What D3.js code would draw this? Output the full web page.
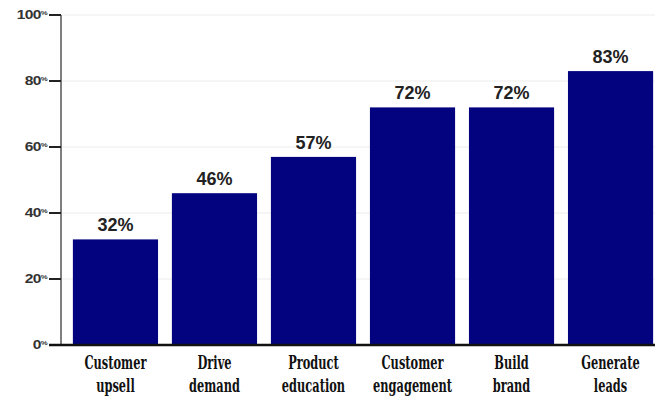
<!DOCTYPE html>
<html>
<head>
<meta charset="utf-8">
<script src="https://cdn.jsdelivr.net/npm/d3@7"></script>
<style>
  body { margin: 0; background: #fff; }
  svg { display: block; }
</style>
</head>
<body>
<svg id="chart" width="655" height="397"></svg>
<script>
// data
const categories = [
  ['Customer', 'upsell'],
  ['Drive', 'demand'],
  ['Product', 'education'],
  ['Customer', 'engagement'],
  ['Build', 'brand'],
  ['Generate', 'leads']
];
const values = [32, 46, 57, 72, 72, 83];
const yTicks = [0, 20, 40, 60, 80, 100];

const svg = d3.select('#chart');

const x = d3.scaleBand()
  .domain(d3.range(values.length))
  .range([61, 665])
  .paddingInner(0.14)
  .paddingOuter(0.12);

const y = d3.scaleLinear()
  .domain([0, 100])
  .range([345, 15]);

// light gridlines
svg.append('g')
  .selectAll('line')
  .data(yTicks.slice(1))
  .enter()
  .append('line')
  .attr('x1', 61).attr('x2', 655)
  .attr('y1', d => y(d)).attr('y2', d => y(d))
  .style('stroke', '#ececec')
  .style('stroke-width', 1);

// bars
svg.append('g')
  .selectAll('rect')
  .data(values)
  .enter()
  .append('rect')
  .attr('x', (d, i) => x(i))
  .attr('y', d => y(d))
  .attr('width', x.bandwidth())
  .attr('height', d => y(0) - y(d))
  .style('fill', '#03037f');

// value labels
svg.append('g')
  .selectAll('text')
  .data(values)
  .enter()
  .append('text')
  .attr('x', (d, i) => x(i) + x.bandwidth() / 2)
  .attr('y', d => y(d) - 8)
  .attr('text-anchor', 'middle')
  .style('font-family', '"Liberation Sans", Arial, sans-serif')
  .style('font-weight', 'bold')
  .style('font-size', '18px')
  .style('fill', '#222')
  .text(d => d + '%');

// y axis line
svg.append('line')
  .attr('x1', 61).attr('x2', 61)
  .attr('y1', y(100)).attr('y2', y(0))
  .style('stroke', '#555')
  .style('stroke-width', 1.5);

// y ticks
const ticks = svg.append('g')
  .selectAll('g')
  .data(yTicks)
  .enter()
  .append('g')
  .attr('transform', d => 'translate(0,' + y(d) + ')');

ticks.append('line')
  .attr('x1', 49).attr('x2', 61)
  .style('stroke', '#222')
  .style('stroke-width', 2);

// tick labels: wide digits with a tiny raised %
const tl = ticks.append('text')
  .attr('transform', 'translate(47,4) scale(1.3,1)')
  .attr('text-anchor', 'end')
  .style('font-family', '"Liberation Sans", Arial, sans-serif')
  .style('font-weight', 'bold')
  .style('font-size', '12px')
  .style('letter-spacing', '-0.5px')
  .style('fill', '#333');
tl.append('tspan').text(d => d);
tl.append('tspan')
  .attr('dy', -4)
  .style('font-size', '6px')
  .text('%');

// baseline
svg.append('line')
  .attr('x1', 49).attr('x2', 655)
  .attr('y1', y(0)).attr('y2', y(0))
  .style('stroke', '#111')
  .style('stroke-width', 2.5);

// category labels (condensed bold serif)
const sx = 0.6;
const cat = svg.append('g')
  .selectAll('g')
  .data(categories)
  .enter()
  .append('g')
  .attr('transform', (d, i) =>
    'translate(' + (x(i) + x.bandwidth() / 2) + ',0) scale(' + sx + ',1)');

cat.selectAll('text')
  .data(d => d)
  .enter()
  .append('text')
  .attr('x', 0)
  .attr('y', (d, j) => 369.5 + j * 22.5)
  .attr('text-anchor', 'middle')
  .style('font-family', '"DejaVu Serif", serif')
  .style('font-weight', 'bold')
  .style('font-size', '19px')
  .style('fill', '#111')
  .text(d => d);
</script>
</body>
</html>
